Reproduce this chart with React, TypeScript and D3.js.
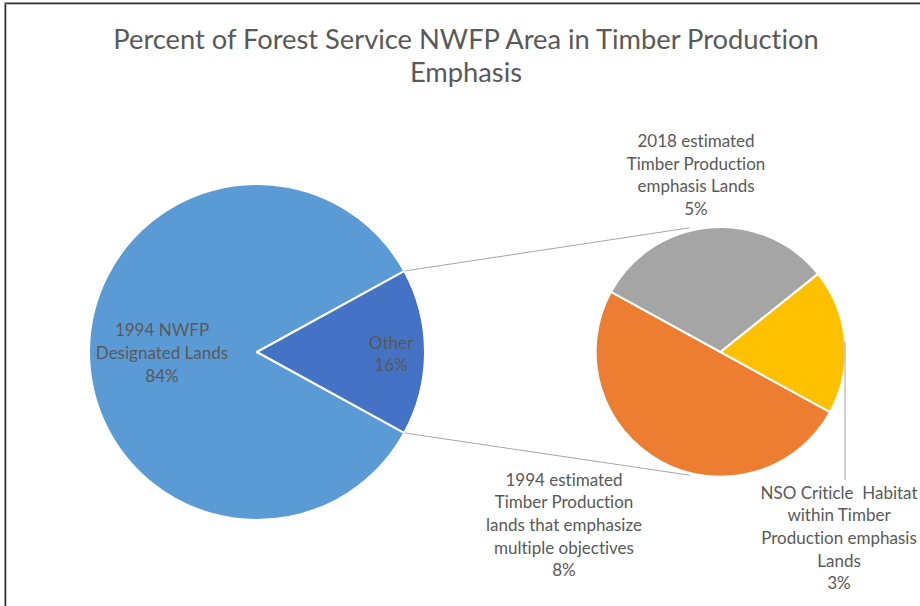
import React from "react";
import * as d3 from "d3";

// ---- data ----
const title = ["Percent of Forest Service NWFP Area in Timber Production", "Emphasis"];
const mainCategories = ["1994 NWFP Designated Lands", "Other"];
const secondaryCategories = [
  "1994 estimated Timber Production lands that emphasize multiple objectives",
  "2018 estimated Timber Production emphasis Lands",
  "NSO Criticle  Habitat within Timber Production emphasis Lands",
];
const mainValue = [84];
const secondaryValues = [8, 5, 3];
const mainLabelLines = [["1994 NWFP", "Designated Lands", "84%"], ["Other", "16%"]];
const secondaryLabelLines = [
  ["1994 estimated", "Timber Production", "lands that emphasize", "multiple objectives", "8%"],
  ["2018 estimated", "Timber Production", "emphasis Lands", "5%"],
  ["NSO Criticle  Habitat", "within Timber", "Production emphasis", "Lands", "3%"],
];
const mainColors = ["#5B9BD5", "#4472C4"];
const secondaryColors = ["#ED7D31", "#A5A5A5", "#FFC000"];

// ---- layout ----
const W = 920;
const H = 606;
const mainC = { x: 257, y: 352, r: 168 };
const secC = { x: 720.5, y: 352, r: 125 };
const FONT = "Lato, 'Open Sans', sans-serif";
const LABEL_FS = 17;
const LINE_H = 22.6;
const noLig = { fontVariantLigatures: "none" as const, fontFeatureSettings: "'liga' 0, 'clig' 0" };
// label centre positions (layout)
const mainLabelPos = [
  { x: 162, y: 353 },
  { x: 391, y: 354 },
];
const secLabelPos = [
  { x: 564, y: 525 },
  { x: 696, y: 175 },
  { x: 839, y: 538 },
];

export default function App() {
  const otherValue = d3.sum(secondaryValues);
  const mainValues = [mainValue[0], otherValue];
  const total = d3.sum(mainValues);
  const start = Math.PI / 2 + Math.PI * (otherValue / total);

  const pieMain = d3.pie<number>().sort(null).startAngle(start).endAngle(start + 2 * Math.PI);
  const pieSec = d3.pie<number>().sort(null).startAngle(start).endAngle(start + 2 * Math.PI);
  const mainArcs = pieMain(mainValues);
  const secArcs = pieSec(secondaryValues);
  const arcMain = d3.arc<d3.PieArcDatum<number>>().innerRadius(0).outerRadius(mainC.r);
  const arcSec = d3.arc<d3.PieArcDatum<number>>().innerRadius(0).outerRadius(secC.r);

  // connector lines from "Other" slice vertices to secondary pie
  const otherArc = mainArcs[1];
  const vtx = (a: number) => ({
    x: mainC.x + mainC.r * Math.sin(a),
    y: mainC.y - mainC.r * Math.cos(a),
  });
  const pTop = vtx(otherArc.startAngle);
  const pBot = vtx(otherArc.endAngle);
  const connAngle = (104 * Math.PI) / 180;
  const qTop = { x: secC.x + (secC.r + 3) * Math.cos(-connAngle), y: secC.y + (secC.r + 3) * Math.sin(-connAngle) };
  const qBot = { x: secC.x + (secC.r + 2) * Math.cos(connAngle), y: secC.y + (secC.r + 2) * Math.sin(connAngle) };

  // leader for the NSO slice
  const ya = secArcs[2];
  const mid = (ya.startAngle + ya.endAngle) / 2;
  const leadStart = { x: secC.x + secC.r * Math.sin(mid), y: secC.y - secC.r * Math.cos(mid) };

  const renderLabel = (lines: string[], pos: { x: number; y: number }, key: string) => {
    const n = lines.length;
    const y0 = pos.y - ((n - 1) * LINE_H) / 2;
    return (
      <text key={key} x={pos.x} textAnchor="middle" fontFamily={FONT} fontSize={LABEL_FS} fill="#595959" style={noLig}>
        {lines.map((l, i) => (
          <tspan key={i} x={pos.x} y={y0 + i * LINE_H} dy="0.35em" style={{ whiteSpace: "pre" }}>
            {l}
          </tspan>
        ))}
      </text>
    );
  };

  return (
    <svg width={W} height={H} style={{ position: "absolute", left: 0, top: 0, background: "#fff" }}>
      <rect x={0} y={0} width={W} height={H} fill="#fff" />
      {/* frame */}
      <path d={`M4.5,${H} V2.5 H${W}`} fill="none" stroke="#9a9a9a" strokeWidth={1} />
      <path d={`M5.5,${H} V3.5 H${W}`} fill="none" stroke="#2b2b2b" strokeWidth={1} />
      <path d={`M6.5,${H} V4.5 H${W}`} fill="none" stroke="#c8c8c8" strokeWidth={1} />

      {/* title */}
      <text textAnchor="middle" fontFamily={FONT} fontSize={27.3} fill="#595959" style={noLig}>
        <tspan x={466} y={49}>{title[0]}</tspan>
        <tspan x={466} y={82}>{title[1]}</tspan>
      </text>

      {/* connector lines */}
      <line x1={pTop.x} y1={pTop.y} x2={qTop.x} y2={qTop.y} stroke="#A6A6A6" strokeWidth={1} />
      <line x1={pBot.x} y1={pBot.y} x2={qBot.x} y2={qBot.y} stroke="#A6A6A6" strokeWidth={1} />

      {/* main pie */}
      <g transform={`translate(${mainC.x},${mainC.y})`}>
        {mainArcs.map((a, i) => (
          <path key={mainCategories[i]} d={arcMain(a) || ""} fill={mainColors[i]} stroke="#fff" strokeWidth={2} strokeLinejoin="round" />
        ))}
      </g>

      {/* secondary pie */}
      <g transform={`translate(${secC.x},${secC.y})`}>
        {secArcs.map((a, i) => (
          <path key={secondaryCategories[i]} d={arcSec(a) || ""} fill={secondaryColors[i]} stroke="#fff" strokeWidth={2} strokeLinejoin="round" />
        ))}
      </g>

      {/* leader line */}
      <line x1={leadStart.x} y1={leadStart.y} x2={leadStart.x} y2={480} stroke="#A6A6A6" strokeWidth={1} />

      {/* labels */}
      {mainLabelLines.map((l, i) => renderLabel(l, mainLabelPos[i], "m" + i))}
      {secondaryLabelLines.map((l, i) => renderLabel(l, secLabelPos[i], "s" + i))}
    </svg>
  );
}
